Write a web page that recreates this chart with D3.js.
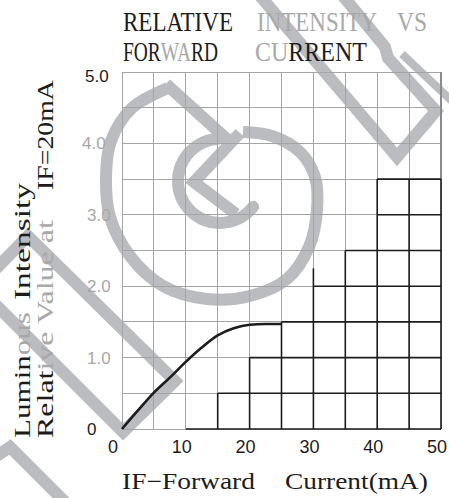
<!DOCTYPE html>
<html>
<head>
<meta charset="utf-8">
<script src="https://cdn.jsdelivr.net/npm/d3@7"></script>
<style>
body{margin:0;background:#fff;}
svg{display:block;}
</style>
</head>
<body>
<script>
// curve values
var currentMA    = [0, 2.5, 5, 7.5, 10, 12.5, 15, 17.5, 20, 22.5, 25];
var relIntensity = [0, 0.26, 0.51, 0.72, 0.94, 1.14, 1.31, 1.41, 1.46, 1.47, 1.47];

var xTickValues = [0, 10, 20, 30, 40, 50];
var yTickValues = [0, 1, 2, 3, 4, 5];
var yTickLabels = ["0", "1.0", "2.0", "3.0", "4.0", "5.0"];

// dark staircase part of the grid (rows start at stairFrom, columns go up to stairColTop)
var stairLevels = [0, 0.5, 1, 1.5, 2, 2.5, 3, 3.5];
var stairFrom   = [10, 15, 20, 25, 30, 35, 40, 40];
var stairCols   = [15, 20, 25, 30, 35, 40, 45, 50];
var stairColTop = [0.5, 1, 1.5, 2.25, 2.5, 3.5, 3.5, 3.5];

var width = 449, height = 498;
var black = "#1c1c1c", grey = "#a8a8a8";
var serif = "'Liberation Serif', 'DejaVu Serif', serif";
var sans = "'Liberation Sans', Arial, sans-serif";

var svg = d3.select('body').append('svg')
            .attr('width', width)
            .attr('height', height);

var x = d3.scaleLinear().domain([0, 50]).range([122, 441]);
var y = d3.scaleLinear().domain([0, 5]).range([429, 72]);

// ---- watermark (decoration only, page pixels) ----
var wm = svg.append('g')
            .attr('fill', 'none')
            .attr('stroke', '#babcbf')
            .attr('stroke-width', 12)
            .attr('stroke-linejoin', 'miter');
var poly = d3.line();
var smooth = d3.line().curve(d3.curveCatmullRom);

wm.append('path').attr('d', poly([[255,-10],[397,157],[436,111],[388,58],[385,47],[338,-10]]));
wm.append('path').attr('d', poly([[402,54],[455,104]])).attr('stroke-width', 8);
wm.append('path').attr('d', poly([[28,236],[175,381],[123,432],[-22,287]]) + 'Z');
wm.append('path').attr('d', poly([[-20,467],[10,447],[70,507]]));
wm.append('path').attr('d', smooth([[168,88],[132,108],[111,141],[106,177],[110,217],[130,256],[163,286],
                                    [207,299],[250,296],[287,279],[309,247],[317,210],[315,177],[300,152],
                                    [272,136],[243,132]]));
wm.append('path').attr('d', poly([[166,84],[230,142]]));
wm.append('path').attr('d', poly([[240,133],[194,182],[236,214]]));
var innerC = d3.path();
innerC.arc(220, 181, 42, -94 * Math.PI / 180, -322 * Math.PI / 180, true);
wm.append('path').attr('d', innerC.toString()).attr('stroke-linecap', 'round');

// ---- light grid ----
var grid = svg.append('g').attr('shape-rendering', 'crispEdges').attr('stroke', '#a4a4a4');
grid.selectAll('line.v').data(d3.range(0, 50.1, 5)).enter().append('line')
    .attr('class', 'v')
    .attr('x1', function(d){ return x(d); }).attr('x2', function(d){ return x(d); })
    .attr('y1', y(0)).attr('y2', y(5));
grid.selectAll('line.h').data(d3.range(0, 5.01, 0.5)).enter().append('line')
    .attr('class', 'h')
    .attr('x1', x(0)).attr('x2', x(50))
    .attr('y1', function(d){ return y(d); }).attr('y2', function(d){ return y(d); });

svg.append('line')
   .attr('x1', x(50)).attr('x2', x(50)).attr('y1', y(5)).attr('y2', y(3.5))
   .attr('stroke', '#8a8a8a').attr('stroke-width', 2);

// ---- dark staircase ----
var stairs = svg.append('g').attr('stroke', black).attr('stroke-width', 1.6);
stairs.selectAll('line.row').data(stairLevels).enter().append('line')
    .attr('class', 'row')
    .attr('x1', function(d, i){ return x(stairFrom[i]); })
    .attr('x2', x(50))
    .attr('y1', function(d){ return y(d); })
    .attr('y2', function(d){ return y(d); });
stairs.selectAll('line.col').data(stairCols).enter().append('line')
    .attr('class', 'col')
    .attr('x1', function(d){ return x(d); })
    .attr('x2', function(d){ return x(d); })
    .attr('y1', y(0))
    .attr('y2', function(d, i){ return y(stairColTop[i]); });

// ---- curve ----
var data = currentMA.map(function(c, i){ return {ma: c, rel: relIntensity[i]}; });
var line = d3.line()
             .curve(d3.curveMonotoneX)
             .x(function(d){ return x(d.ma); })
             .y(function(d){ return y(d.rel); });
svg.append('path')
   .attr('d', line(data))
   .attr('fill', 'none')
   .attr('stroke', black)
   .attr('stroke-width', 2.6);

// ---- tick labels ----
svg.selectAll('text.xt').data(xTickValues).enter().append('text')
   .attr('class', 'xt')
   .attr('x', function(d){ return x(d) - (d === 0 ? 9 : 4); })
   .attr('y', 453)
   .attr('text-anchor', 'middle')
   .style('font-family', sans).style('font-size', '18px')
   .attr('fill', black)
   .text(function(d){ return d; });

svg.selectAll('text.yt').data(yTickValues).enter().append('text')
   .attr('class', 'yt')
   .attr('x', function(d){ return d === 4 ? 82 : (d === 5 ? 85 : 87); })
   .attr('y', function(d){ return y(d) + (d === 5 ? 10 : 6); })
   .style('font-family', sans).style('font-size', '17px')
   .attr('fill', function(d){ return (d === 0 || d === 5) ? black : grey; })
   .text(function(d, i){ return yTickLabels[i]; });

// ---- titles: each word squeezed horizontally to the width seen in the picture ----
function piece(parts, x0, y0, len, size, rotate) {
  var t = svg.append('text')
     .style('font-family', serif).style('font-size', size + 'px');
  parts.forEach(function(p){
    t.append('tspan').attr('fill', p[1]).text(p[0]);
  });
  var natural = t.node().getComputedTextLength();
  t.attr('transform', 'translate(' + x0 + ',' + y0 + ')' + (rotate ? ' rotate(-90)' : '') +
                      ' scale(' + (len / natural) + ',1)');
}
piece([["RELATIVE", black]], 123, 31, 110, 28);
piece([["INTENSITY", grey]], 257, 31, 120, 28);
piece([["VS", grey]], 397, 31, 30, 28);
piece([["FOR", black], ["WA", grey], ["RD", black]], 123, 61, 94, 28);
piece([["CU", grey], ["RRENT", black]], 255, 61, 112, 28);

piece([["IF\u2212Forward", black]], 122, 489, 133, 23);
piece([["Current(mA)", black]], 285, 489, 143, 23);

piece([["Lumin", black], ["ous", grey]], 30, 438, 126, 24, true);
piece([["Intensity", black]], 30, 300, 117, 24, true);
piece([["Relat", black], ["ive Value at", grey]], 53, 438, 218, 24, true);
piece([["IF=20mA", black]], 53, 190, 110, 24, true);
</script>
</body>
</html>
